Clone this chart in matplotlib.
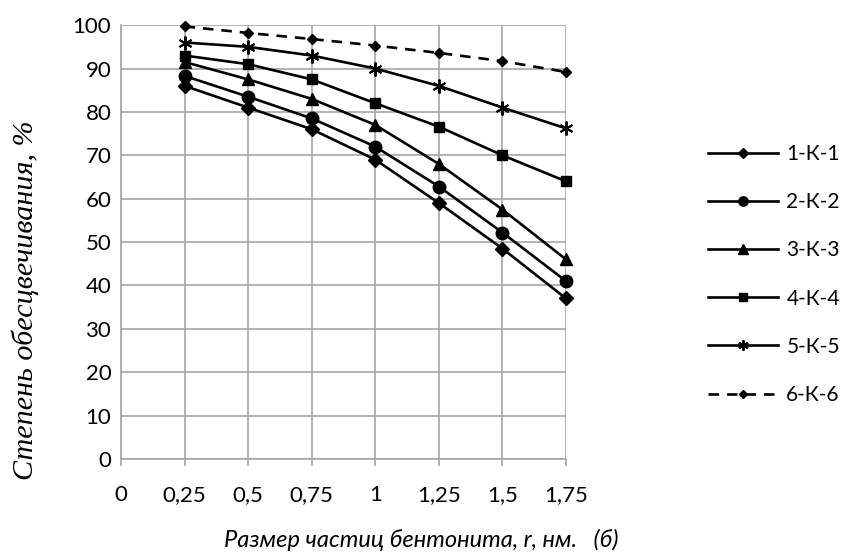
import numpy as np
import matplotlib.pyplot as plt

# размер частиц, нм
r = [0.25, 0.5, 0.75, 1.0, 1.25, 1.5, 1.75]

k1 = [86, 81, 76, 69, 59, 48.5, 37]
k2 = [88.3, 83.5, 78.5, 72, 62.8, 52.2, 41]
k3 = [91.5, 87.5, 83, 77, 68, 57.5, 46]
k4 = [93, 91, 87.5, 82, 76.6, 70, 64]
k5 = [96, 95, 93, 90, 86, 81, 76.2]
k6 = [99.7, 98.2, 96.8, 95.3, 93.6, 91.7, 89.2]

labels = ['1-К-1', '2-К-2', '3-К-3', '4-К-4', '5-К-5', '6-К-6']
x_ticks = [0, 0.25, 0.5, 0.75, 1, 1.25, 1.5, 1.75]
x_ticklabels = ['0', '0,25', '0,5', '0,75', '1', '1,25', '1,5', '1,75']
y_ticks = list(range(0, 101, 10))

plt.rcParams['font.family'] = ['Lato', 'DejaVu Sans']

fig = plt.figure(figsize=(8.46, 5.59), dpi=100)
ax = fig.add_axes([0.143, 0.179, 0.526, 0.776])

lw = 1.9
series = [
    (k1, dict(marker='D', markersize=7, linestyle='-')),
    (k2, dict(marker='o', markersize=9, linestyle='-')),
    (k3, dict(marker='^', markersize=9, linestyle='-')),
    (k4, dict(marker='s', markersize=7.5, linestyle='-')),
    (k5, dict(marker=(6, 2, 0), markersize=10, markeredgewidth=1.4, linestyle='-')),
    (k6, dict(marker='D', markersize=5, linestyle=(0, (4, 3)))),
]
handles = []
for (vals, st), lab in zip(series, labels):
    h, = ax.plot(r, vals, color='black', linewidth=lw, markerfacecolor='black',
                 markeredgecolor='black', label=lab, clip_on=False, zorder=3, **st)
    handles.append(h)

ax.set_xlim(0, 1.75)
ax.set_ylim(0, 100)
ax.set_xticks(x_ticks)
ax.set_xticklabels(x_ticklabels)
ax.set_yticks(y_ticks)
ax.grid(True, color='#a6a6a6', linewidth=1.2)
ax.set_axisbelow(True)
for s in ['top', 'right']:
    ax.spines[s].set_visible(False)
for s in ['left', 'bottom']:
    ax.spines[s].set_color('#a6a6a6')
    ax.spines[s].set_linewidth(1.2)
ax.tick_params(axis='x', length=5, color='#a6a6a6', width=1.2, labelsize=16, pad=14)
ax.tick_params(axis='y', length=0, labelsize=16, pad=7)

fig.text(421 / 846, 1 - 540 / 559, 'Размер частиц бентонита, r, нм.   (б)',
         fontsize=17, style='italic', ha='center', va='center')
fig.text(25 / 846, 1 - 300 / 559, 'Степень обесцвечивания, %', fontsize=21.7,
         style='italic', family=['Liberation Serif', 'DejaVu Serif'],
         rotation=90, ha='center', va='center')

fig.legend(handles=handles, loc='upper left', bbox_to_anchor=(0.827, 0.757),
           frameon=False, fontsize=15, handlelength=3.36, handletextpad=0.4,
           labelspacing=1.35, borderaxespad=0, markerscale=0.75)

fig.savefig('out.png', dpi=100)
